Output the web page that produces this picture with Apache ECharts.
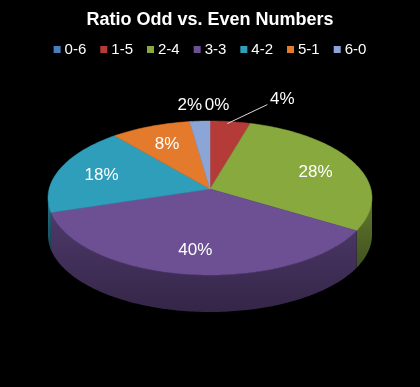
<!DOCTYPE html>
<html>
<head>
<meta charset="utf-8">
<script src="https://cdn.jsdelivr.net/npm/echarts@6/dist/echarts.min.js"></script>
<style>
	html, body { margin: 0; padding: 0; background: #000; }
	#chart { width: 420px; height: 387px; }
</style>
</head>
<body>
<div id="chart"></div>
<script>
(function() {

	// data
	var categories = ['0-6', '1-5', '2-4', '3-3', '4-2', '5-1', '6-0'];
	var percents = [0, 4, 28, 40, 18, 8, 2];

	var palette = ['#4a7ebb', '#b53b39', '#87a93e', '#6d4f94', '#2f9ebb', '#e47a2b', '#8ba6d6'];

	// ellipse layout of the 3d pie
	var CX = 210, CY = 198, RX = 162, RY = 77, DEPTH = 37, VY = -9;
	var FONT = '"Liberation Sans", Arial, sans-serif';

	// labels of the thin slices sit outside, offset from the rim
	var outside = {
		'0-6': { dx: 7, dy: -16 },
		'1-5': { dx: 52, dy: -22, line: true },
		'6-0': { dx: -10, dy: -16 }
	};

	var total = 0, starts = [];
	percents.forEach(function(v) { starts.push(total); total += v; });

	function rim(phi, dy) {
		return [CX + RX * Math.sin(phi), CY - RY * Math.cos(phi) + (dy || 0)];
	}

	function shade(hex, f) {
		var n = parseInt(hex.slice(1), 16);
		var r = Math.round(((n >> 16) & 255) * f), g = Math.round(((n >> 8) & 255) * f), b = Math.round((n & 255) * f);
		return 'rgb(' + r + ',' + g + ',' + b + ')';
	}

	function renderSlice(params, api) {
		var i = params.dataIndex;
		var v = api.value(0), st = api.value(1), tot = api.value(2);
		var a = st / tot * Math.PI * 2, b = (st + v) / tot * Math.PI * 2;
		var color = palette[i];
		var children = [];
		var k, n;

		if (v > 0) {
			// front wall
			var s = Math.max(a, Math.PI / 2), e = Math.min(b, Math.PI * 1.5);
			if (e > s) {
				var side = [];
				n = Math.max(2, Math.ceil((e - s) / 0.02));
				for (k = 0; k <= n; k++) side.push(rim(s + (e - s) * k / n));
				for (k = n; k >= 0; k--) side.push(rim(s + (e - s) * k / n, DEPTH));
				children.push({
					type: 'polygon',
					shape: { points: side },
					style: {
						fill: {
							type: 'linear', x: 0, y: 0, x2: 0, y2: 1,
							colorStops: [{ offset: 0, color: shade(color, 0.72) }, { offset: 1, color: shade(color, 0.48) }]
						}
					}
				});
			}
			// top face
			var top = [[CX, CY + VY]];
			n = Math.max(2, Math.ceil((b - a) / 0.02));
			for (k = 0; k <= n; k++) top.push(rim(a + (b - a) * k / n));
			children.push({
				type: 'polygon',
				shape: { points: top },
				style: { fill: color, stroke: color, lineWidth: 0.5 }
			});
		}

		// label
		var mid = (a + b) / 2;
		var p = rim(mid);
		var cat = categories[i];
		var text = percents[i] + '%';
		if (outside[cat]) {
			var o = outside[cat];
			var lx = p[0] + o.dx, ly = p[1] + o.dy;
			if (o.line) {
				children.push({
					type: 'line',
					z2: 20,
					shape: { x1: p[0] - 3, y1: p[1] + 2, x2: lx - 15, y2: ly + 5 },
					style: { stroke: '#d9d9d9', lineWidth: 1 }
				});
			}
			children.push({
				type: 'text',
				z2: 30,
				style: { text: text, x: lx, y: ly, fill: '#fff', font: '17px ' + FONT, align: 'center', verticalAlign: 'middle' }
			});
		} else {
			var r = 0.72;
			var vx = CX, vy = CY + VY;
			children.push({
				type: 'text',
				z2: 30,
				style: {
					text: text,
					x: vx + (p[0] - vx) * r,
					y: vy + (p[1] - vy) * r,
					fill: '#fff', font: '17px ' + FONT, align: 'center', verticalAlign: 'middle'
				}
			});
		}

		return { type: 'group', children: children };
	}

	var chart = echarts.init(document.getElementById('chart'));
	chart.setOption({
		backgroundColor: '#000',
		animation: false,
		title: {
			text: 'Ratio Odd vs. Even Numbers',
			left: 'center',
			top: 6,
			textStyle: { color: '#fff', fontSize: 18, fontWeight: 'bold', fontFamily: FONT }
		},
		legend: {
			data: categories,
			top: 37,
			left: 'center',
			icon: 'rect',
			itemWidth: 7,
			itemHeight: 7,
			itemGap: 14,
			textStyle: { color: '#fff', fontSize: 15, fontFamily: FONT, padding: [0, 0, 0, -1] }
		},
		series: [{
			// only feeds the legend
			type: 'pie',
			silent: true,
			center: [-100, -100],
			radius: 1,
			label: { show: false },
			labelLine: { show: false },
			data: categories.map(function(c, i) {
				return { name: c, value: percents[i], itemStyle: { color: palette[i] } };
			})
		}, {
			type: 'custom',
			coordinateSystem: 'none',
			renderItem: renderSlice,
			data: categories.map(function(c, i) {
				return { name: c, value: [percents[i], starts[i], total] };
			})
		}]
	});

})();
</script>
</body>
</html>
